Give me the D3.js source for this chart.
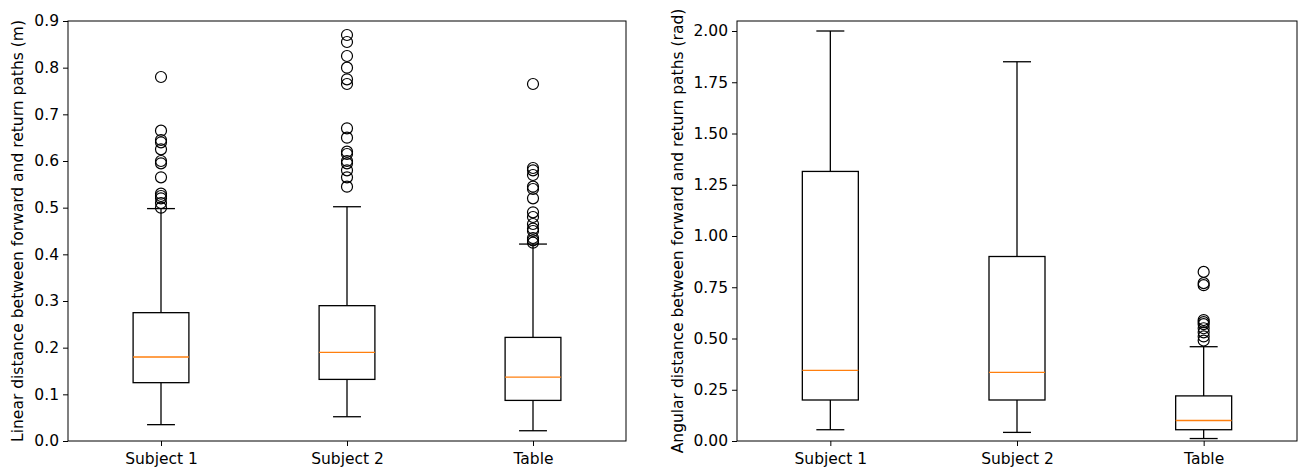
<!DOCTYPE html>
<html><head><meta charset="utf-8">
<script src="https://cdn.jsdelivr.net/npm/d3@7"></script>
<style>body{margin:0;background:#fff}text{font-family:"DejaVu Sans",sans-serif}</style>
</head><body><svg id="chart" width="1306" height="472"></svg>
<script>
var categories = ["Subject 1", "Subject 2", "Table"];
// [low whisker, q1, median, q3, high whisker]
var linearStats = [[0.035, 0.125, 0.18, 0.275, 0.498], [0.052, 0.132, 0.19, 0.29, 0.502], [0.022, 0.087, 0.137, 0.222, 0.422]];
var linearOutliers = [
  [0.78, 0.665, 0.645, 0.64, 0.625, 0.60, 0.595, 0.565, 0.53, 0.525, 0.52, 0.51, 0.50],
  [0.87, 0.855, 0.825, 0.80, 0.775, 0.765, 0.67, 0.65, 0.62, 0.615, 0.60, 0.595, 0.58, 0.565, 0.545],
  [0.765, 0.585, 0.58, 0.57, 0.545, 0.54, 0.52, 0.49, 0.48, 0.465, 0.455, 0.45, 0.435, 0.43, 0.425]
];
var angularStats = [[0.055, 0.2, 0.345, 1.315, 2.0], [0.042, 0.2, 0.335, 0.9, 1.85], [0.012, 0.055, 0.1, 0.22, 0.46]];
var angularOutliers = [[], [], [0.825, 0.77, 0.76, 0.59, 0.58, 0.57, 0.55, 0.53, 0.51, 0.49]];
var linearTicks = [0, 0.1, 0.2, 0.3, 0.4, 0.5, 0.6, 0.7, 0.8, 0.9];
var angularTicks = [0, 0.25, 0.5, 0.75, 1.0, 1.25, 1.5, 1.75, 2.0];

var svg = d3.select("#chart");
var fs = "15.5px";

function panel(left, right, top, bottom, yMax, ticks, fmt, stats, outliers, label, labelX) {
	var g = svg.append("g");
	var x = d3.scaleLinear().domain([0.5, 3.5]).range([left, right]);
	var y = d3.scaleLinear().domain([0, yMax]).range([bottom, top]);
	var bw = x(1.15) - x(0.85);
	var cw = bw / 2;

	g.append("g").attr("transform", "translate(0," + bottom + ")")
	  .call(d3.axisBottom(x).tickValues([1, 2, 3]).tickFormat(function(d) { return categories[d - 1]; }).tickSizeOuter(0).tickSize(5).tickPadding(7));
	g.append("g").attr("transform", "translate(" + left + ",0)")
	  .call(d3.axisLeft(y).tickValues(ticks).tickFormat(d3.format(fmt)).tickSizeOuter(0).tickSize(5).tickPadding(4));
	g.selectAll(".domain").remove();
	g.selectAll(".tick text").style("font-size", fs).attr("fill", "#000");
	g.append("rect").attr("x", left).attr("y", top).attr("width", right - left).attr("height", bottom - top)
	  .attr("fill", "none").attr("stroke", "#000").attr("stroke-width", 1);

	stats.forEach(function(s, i) {
		var cx = x(i + 1);
		var b = g.append("g").attr("stroke", "#000").attr("fill", "none").attr("stroke-width", 1.3);
		b.append("line").attr("x1", cx).attr("x2", cx).attr("y1", y(s[0])).attr("y2", y(s[1]));
		b.append("line").attr("x1", cx).attr("x2", cx).attr("y1", y(s[3])).attr("y2", y(s[4]));
		b.append("line").attr("x1", cx - cw / 2).attr("x2", cx + cw / 2).attr("y1", y(s[0])).attr("y2", y(s[0]));
		b.append("line").attr("x1", cx - cw / 2).attr("x2", cx + cw / 2).attr("y1", y(s[4])).attr("y2", y(s[4]));
		b.append("rect").attr("x", cx - bw / 2).attr("width", bw).attr("y", y(s[3])).attr("height", y(s[1]) - y(s[3]));
		g.append("line").attr("x1", cx - bw / 2).attr("x2", cx + bw / 2).attr("y1", y(s[2])).attr("y2", y(s[2]))
		  .attr("stroke", "#ff7f0e").attr("stroke-width", 1.3);
		g.selectAll(null).data(outliers[i]).enter().append("circle")
		  .attr("cx", cx).attr("cy", function(d) { return y(d); }).attr("r", 5.5)
		  .attr("fill", "none").attr("stroke", "#000").attr("stroke-width", 1.2);
	});

	g.append("text").attr("transform", "translate(" + labelX + "," + ((top + bottom) / 2) + ") rotate(-90)")
	  .attr("text-anchor", "middle").attr("dy", "0.35em").style("font-size", fs).text(label);
}

panel(68, 626, 21, 441, 0.9, linearTicks, ".1f", linearStats, linearOutliers,
	"Linear distance between forward and return paths (m)", 18);
panel(737, 1297, 21, 441, 2.0488, angularTicks, ".2f", angularStats, angularOutliers,
	"Angular distance between forward and return paths (rad)", 678);
</script></body></html>
